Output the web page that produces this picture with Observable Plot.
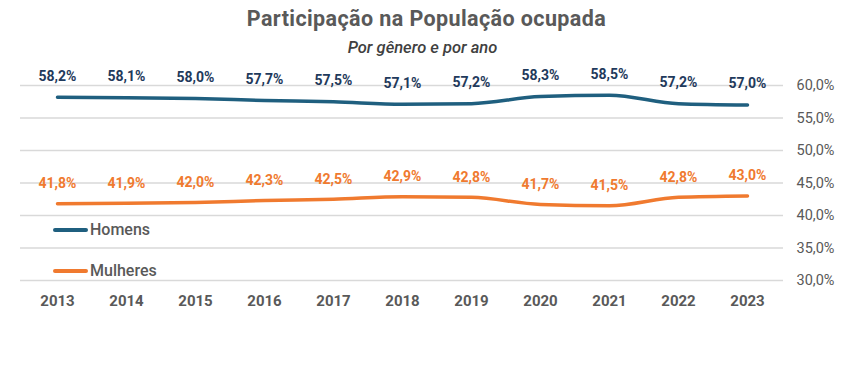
<!DOCTYPE html>
<html><head><meta charset="utf-8">
<script src="https://cdn.jsdelivr.net/npm/d3@7"></script>
<script src="https://cdn.jsdelivr.net/npm/@observablehq/plot@0.6"></script>
<style>
body{margin:0;background:#fff;font-family:Roboto,"Liberation Sans",sans-serif;}
#wrap{position:relative;width:847px;height:366px;}
#title{position:absolute;top:6px;left:0;width:853px;text-align:center;font-size:21.5px;font-weight:bold;color:#595959;letter-spacing:0.4px;}
#subtitle{position:absolute;top:38px;left:0;width:845px;text-align:center;font-size:16.5px;font-style:italic;font-weight:500;color:#404040;}
#chart{position:absolute;top:62px;left:0;}
.leg{position:absolute;left:53px;font-size:16px;font-weight:500;color:#595959;display:flex;align-items:center;}
.leg span.sw{display:inline-block;width:35px;height:4px;border-radius:2px;margin-right:2px;}
</style></head>
<body>
<div id="wrap">
<div id="title">Participação na População ocupada</div>
<div id="subtitle">Por gênero e por ano</div>
<div id="chart"></div>
<div class="leg" style="top:220px"><span class="sw" style="background:#1F5F7F"></span>Homens</div>
<div class="leg" style="top:261px"><span class="sw" style="background:#F07A2F"></span>Mulheres</div>
</div>
<script>
const years = [2013,2014,2015,2016,2017,2018,2019,2020,2021,2022,2023];
const homens = [58.2,58.1,58.0,57.7,57.5,57.1,57.2,58.3,58.5,57.2,57.0];
const mulheres = [41.8,41.9,42.0,42.3,42.5,42.9,42.8,41.7,41.5,42.8,43.0];
const yTicks = [30,35,40,45,50,55,60];

const loc = d3.formatLocale({decimal:",",thousands:".",grouping:[3],currency:["R$",""]});
const f1 = loc.format(".1f");
const pct = v => f1(v) + "%";

const dataH = years.map((y,i)=>({year:y, v:homens[i]}));
const dataM = years.map((y,i)=>({year:y, v:mulheres[i]}));

const plot = Plot.plot({
  width: 847,
  height: 260,
  marginLeft: 20,
  marginRight: 64,
  marginTop: 23,
  marginBottom: 42,
  style: {fontFamily: "Roboto, 'Liberation Sans', sans-serif", background: "#fff"},
  x: {type: "point", domain: years, padding: 0, insetLeft: 33, insetRight: 33, label: null},
  y: {domain: [30, 60], label: null},
  marks: [
    Plot.ruleY(yTicks, {stroke: "#d9d9d9", strokeWidth: 1.5}),
    Plot.axisY({ticks: yTicks, anchor: "right", tickSize: 0, tickPadding: 13, tickFormat: pct, fontSize: 14.5, fill: "#595959", label: null}),
    Plot.axisX({ticks: years, anchor: "bottom", tickSize: 0, tickPadding: 15, tickFormat: d => String(d), fontSize: 15, fontWeight: "bold", fill: "#595959", label: null}),
    Plot.line(dataH, {x: "year", y: "v", stroke: "#1F5F7F", strokeWidth: 3.5, curve: "monotone-x"}),
    Plot.line(dataM, {x: "year", y: "v", stroke: "#F07A2F", strokeWidth: 3.5, curve: "monotone-x"}),
    Plot.text(dataH, {x: "year", y: "v", text: d => pct(d.v), dy: -21, fill: "#1F3A5C", fontWeight: "bold", fontSize: 14}),
    Plot.text(dataM, {x: "year", y: "v", text: d => pct(d.v), dy: -20, fill: "#F07A2F", fontWeight: "bold", fontSize: 14})
  ]
});
document.getElementById("chart").appendChild(plot);
</script>
</body></html>
